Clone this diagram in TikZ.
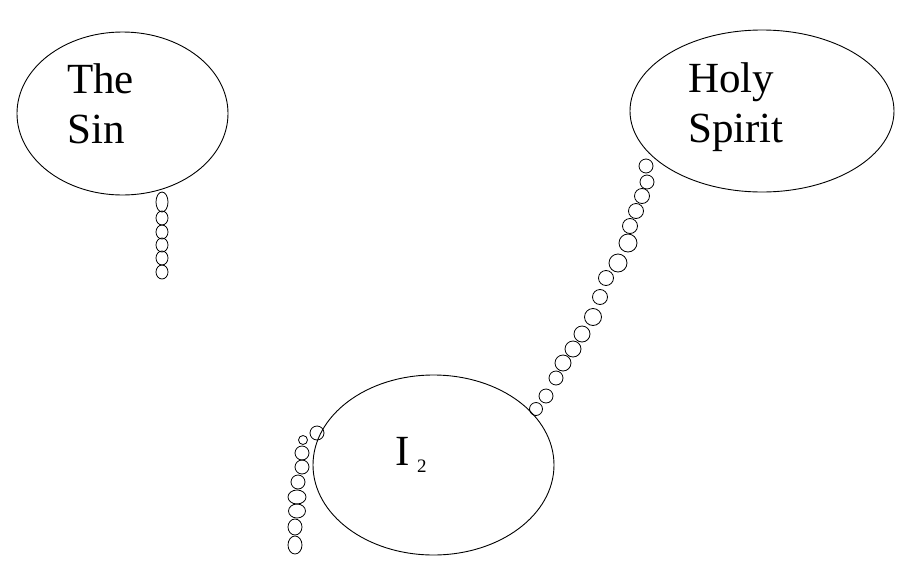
\documentclass[tikz,border=0pt]{standalone}
\usepackage{fontspec}
\setmainfont{Liberation Serif}
\usetikzlibrary{shapes.geometric}
\begin{document}
\begin{tikzpicture}[x=1pt,y=-1pt,
  bubble/.style={draw,ellipse,line width=0.9pt,inner sep=0pt},
  lbl/.style={anchor=base west,inner sep=0pt,font=\fontsize{43}{50}\selectfont},
  bead/.style={draw,line width=0.8pt}]
\useasboundingbox (0,0) rectangle (916,560);
% ellipses
\node[bubble,minimum width=211pt,minimum height=163pt] (sin) at (122.5,113.5) {};
\node[bubble,minimum width=264pt,minimum height=162pt] (hs) at (762,111) {};
\node[bubble,minimum width=241pt,minimum height=180pt] (me) at (433.5,465) {};
% labels
\node[lbl] (sin1) at (67,93) {The};
\node[lbl] (sin2) at (67,143) {Sin};
\node[lbl] (hs1) at (688,92) {Holy};
\node[lbl] (hs2) at (688,142) {Spirit};
\node[lbl] (me1) at (395,465) {I};
\node[anchor=base west,inner sep=0pt,font=\fontsize{19}{22}\selectfont] (me2) at (417,472) {2};
% chain from The Sin
\draw[bead] (162,202) ellipse (6pt and 10pt);
\foreach \y in {218,232,245,258,272}
  \draw[bead] (162,\y) ellipse (6pt and 7pt);
% chain from Holy Spirit
\foreach \x/\y/\r in {646/166/7,647/182/7,642/196/7.5,636/211/7.5,630/226/7.5,628/243/9,618/263/9,606/278/7.5,600/297/7.5,593/317/8.5,582/334/8,573/349/8,563/363/8,556/378/7,546/396/7,536/409/6.5}
  \draw[bead] (\x,\y) circle (\r pt);
% chain beside I
\draw[bead] (317,433) circle (7pt);
\draw[bead] (303,440) circle (4.5pt);
\foreach \x/\y in {302/453,302/467,298/482}
  \draw[bead] (\x,\y) ellipse (7pt and 7pt);
\draw[bead] (297,497) ellipse (9pt and 7pt);
\draw[bead] (297,511) ellipse (8.5pt and 7pt);
\draw[bead] (295,527) ellipse (7pt and 8pt);
\draw[bead] (295,545) ellipse (7pt and 9pt);
\end{tikzpicture}
\end{document}
